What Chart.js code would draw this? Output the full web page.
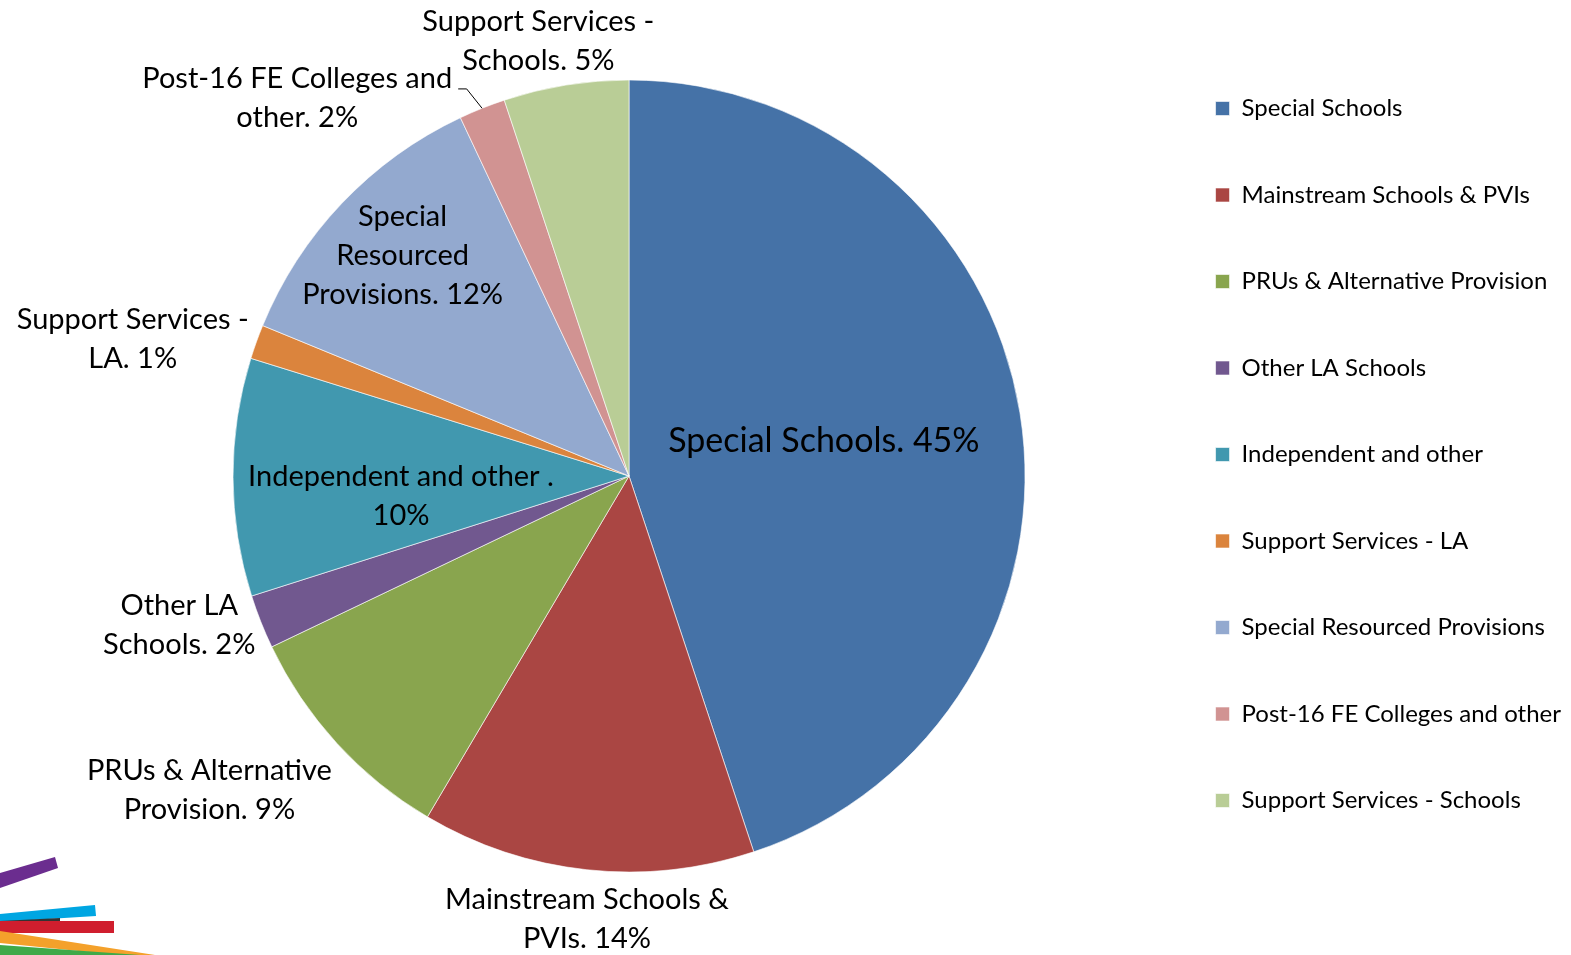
<!DOCTYPE html>
<html>
<head>
<meta charset="utf-8">
<script src="https://cdn.jsdelivr.net/npm/chart.js@4"></script>
<style>
  html, body { margin: 0; padding: 0; background: #fff; }
  #wrap { width: 1571px; height: 955px; position: relative; }
</style>
</head>
<body>
<div id="wrap"><canvas id="pie"></canvas></div>
<script>
// ===== DATA =====
const categories = [
    'Special Schools',
    'Mainstream Schools & PVIs',
    'PRUs & Alternative Provision',
    'Other LA Schools',
    'Independent and other',
    'Support Services - LA',
    'Special Resourced Provisions',
    'Post-16 FE Colleges and other',
    'Support Services - Schools'
];
const shares = [44.9, 13.6, 9.4, 2.2, 9.7, 1.4, 11.8, 1.9, 5.1];
const sliceColors = ['#4572A7', '#AA4643', '#89A54E', '#71588F', '#4198AF', '#DB843D', '#93A9CF', '#D19392', '#B9CD96'];

// data label text, one entry per line, {p} = rounded share
const labelLines = [
    ['Special Schools. {p}'],
    ['Mainstream Schools &', 'PVIs. {p}'],
    ['PRUs & Alternative', 'Provision. {p}'],
    ['Other LA', 'Schools. {p}'],
    ['Independent and other .', '{p}'],
    ['Support Services -', 'LA. {p}'],
    ['Special', 'Resourced', 'Provisions. {p}'],
    ['Post-16 FE Colleges and', 'other. {p}'],
    ['Support Services -', 'Schools. {p}']
];

// label placement: [radius factor, angle shift in degrees]
const labelPlace = [
    [0.50, -1], [1.124, -0.7], [1.323, 5.7], [1.197, 3.2], [0.578, -4.8],
    [1.30, -4.4], [0.797, 0.6], [1.27, -19.5], [1.122, -2.6]
];
const leaderFor = [7];

const FONT = 'Lato, Calibri, "Open Sans", sans-serif';

// ===== PLUGINS =====
const decoStrokes = {
    id: 'decoStrokes',
    beforeDraw(chart) {
        const ctx = chart.ctx;
        const shapes = [
            ['#6B2D8F', [[0, 873], [55, 857], [58, 868], [0, 888]]],
            ['#00A6E2', [[0, 914], [95, 905], [96, 916], [0, 922]]],
            ['#333333', [[0, 921], [60, 918], [60, 923], [0, 925]]],
            ['#D01E2E', [[0, 921], [114, 921], [114, 933], [0, 933]]],
            ['#F4A12B', [[0, 931], [155, 955], [118, 955], [0, 943]]],
            ['#3FA949', [[0, 945], [140, 955], [0, 955]]]
        ];
        ctx.save();
        shapes.forEach(([c, pts]) => {
            ctx.beginPath();
            pts.forEach(([x, y], i) => i ? ctx.lineTo(x, y) : ctx.moveTo(x, y));
            ctx.closePath();
            ctx.fillStyle = c;
            ctx.fill();
        });
        ctx.restore();
    }
};

const sliceLabels = {
    id: 'sliceLabels',
    afterDatasetsDraw(chart) {
        const ctx = chart.ctx;
        const arcs = chart.getDatasetMeta(0).data;
        ctx.save();
        ctx.fillStyle = '#000';
        ctx.textAlign = 'center';
        ctx.textBaseline = 'middle';
        arcs.forEach((arc, i) => {
            const { x, y, startAngle, endAngle, outerRadius } = arc.getProps(['x', 'y', 'startAngle', 'endAngle', 'outerRadius'], true);
            const mid = (startAngle + endAngle) / 2;
            const [rf, shift] = labelPlace[i];
            const a = mid + shift * Math.PI / 180;
            const cx = x + Math.cos(a) * outerRadius * rf;
            const cy = y + Math.sin(a) * outerRadius * rf;
            const size = i === 0 ? 34 : 29;
            const lh = i === 0 ? 44 : 39;
            ctx.font = `${size}px ${FONT}`;
            const pct = Math.round(shares[i]) + '%';
            const lines = labelLines[i].map(s => s.replace('{p}', pct));
            const top = cy - (lines.length - 1) * lh / 2;
            lines.forEach((s, k) => ctx.fillText(s, cx, top + k * lh));

            if (leaderFor.includes(i)) {
                const maxW = Math.max(...lines.map(s => ctx.measureText(s).width));
                const ex = x + Math.cos(mid - 0.017) * outerRadius * 1.06;
                const ey = y + Math.sin(mid - 0.017) * outerRadius * 1.06;
                ctx.beginPath();
                ctx.moveTo(x + Math.cos(mid) * outerRadius, y + Math.sin(mid) * outerRadius);
                ctx.lineTo(ex, ey);
                ctx.lineTo(cx + maxW / 2 + 6, ey);
                ctx.strokeStyle = '#000';
                ctx.lineWidth = 1;
                ctx.stroke();
            }
        });
        ctx.restore();
    }
};

// ===== CHART =====
new Chart(document.getElementById('pie').getContext('2d'), {
    type: 'pie',
    data: {
        labels: categories,
        datasets: [{
            data: shares,
            backgroundColor: sliceColors,
            borderColor: 'rgba(255,255,255,0.6)',
            borderWidth: 1
        }]
    },
    options: {
        responsive: true,
        maintainAspectRatio: false,
        animation: false,
        radius: 396,
        layout: { padding: { left: 105, right: 0, top: 34, bottom: 37 } },
        plugins: {
            legend: {
                position: 'right',
                align: 'start',
                labels: {
                    color: '#000',
                    font: { family: FONT, size: 24 },
                    boxWidth: 14,
                    boxHeight: 14,
                    padding: 62.5
                }
            },
            tooltip: { enabled: false }
        }
    },
    plugins: [decoStrokes, sliceLabels]
});
</script>
</body>
</html>
